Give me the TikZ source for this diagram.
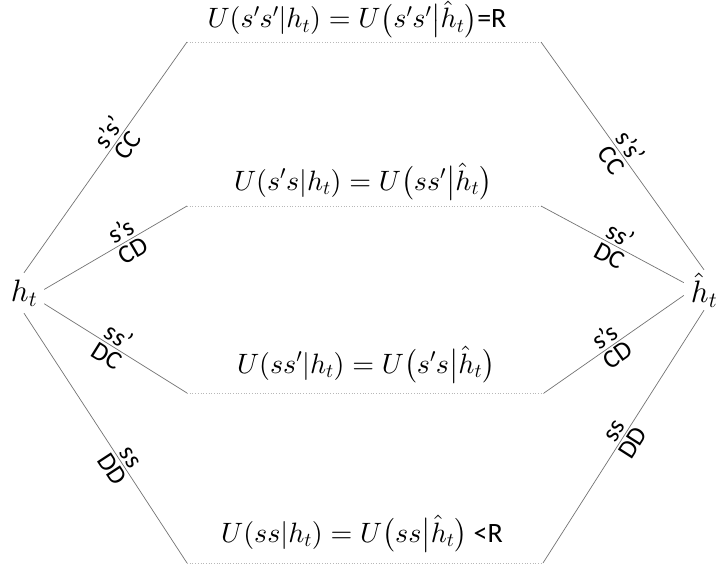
\documentclass[tikz,border=0pt]{standalone}
\usepackage{amsmath}
\usepackage[no-math]{fontspec}
\setmainfont{Carlito}
\DeclareFontShape{OML}{cmm}{m}{it}{<->cmmi10}{\skewchar\font'177}
\DeclareFontShape{OMS}{cmsy}{m}{n}{<->cmsy10}{\skewchar\font'60}
\DeclareFontShape{OMX}{cmex}{m}{n}{<->cmex10}{}
\DeclareFontShape{OT1}{cmr}{m}{n}{<->cmr10}{}
\begin{document}
\begin{tikzpicture}[x=1pt,y=-1pt,
  conn/.style={draw=black!55, line width=0.7pt},
  dotl/.style={draw=black!28, dotted, line width=0.7pt},
  eq/.style={font=\fontsize{28}{33}\selectfont, inner sep=0pt, anchor=base},
  lab/.style={font=\fontsize{26}{30}\selectfont, sloped, inner sep=2.5pt},
  statenode/.style={font=\fontsize{31}{36}\selectfont, minimum width=40pt, minimum height=40pt, inner sep=0pt}]
\useasboundingbox (0,0) rectangle (722,567);
\node[statenode] (h) at (24,293) {$h_t$};
\node[statenode] (hh) at (704,290) {$\hat{h}_t$};
\coordinate (l1) at (187,42);
\coordinate (r1) at (541,42);
\coordinate (l2) at (187,206);
\coordinate (r2) at (541,206);
\coordinate (l3) at (187,393);
\coordinate (r3) at (544,393);
\coordinate (l4) at (187,563);
\coordinate (r4) at (543,563);
% dotted rows
\draw[dotl] (l1) -- (r1);
\draw[dotl] (l2) -- (r2);
\draw[dotl] (l3) -- (r3);
\draw[dotl] (l4) -- (r4);
% equations
\node[eq] (e1) at (357,28) {$U(s's'|h_t) = U\bigl(s's'\big|\hat{h}_t\bigr)$=R};
\node[eq] (e2) at (363,190) {$U(s's|h_t) = U\bigl(ss'\big|\hat{h}_t\bigr)$};
\node[eq] (e3) at (366,373) {$U(ss'|h_t) = U\bigl(s's\big|\hat{h}_t\bigr)$};
\node[eq] (e4) at (362,542) {$U(ss|h_t) = U\bigl(ss\big|\hat{h}_t\bigr)$ <R};
% left branches
\draw[conn] (h.north) -- node[lab, above, pos=0.58] (a1) {s's'} node[lab, below, pos=0.58] (b1) {CC} (l1);
\draw[conn] (h.10) -- node[lab, above, pos=0.58] (a2) {s's} node[lab, below, pos=0.58] (b2) {CD} (l2);
\draw[conn] (h.-28) -- node[lab, above, pos=0.48] (a3) {ss'} node[lab, below, pos=0.48] (b3) {DC} (l3);
\draw[conn] (h.south) -- node[lab, above, pos=0.6] (a4) {ss} node[lab, below, pos=0.6] (b4) {DD} (l4);
% right branches
\draw[conn] (r1) -- node[lab, above, pos=0.49] (c1) {s's'} node[lab, below, pos=0.49] (d1) {CC} (hh.north);
\draw[conn] (r2) -- node[lab, above, pos=0.52] (c2) {ss'} node[lab, below, pos=0.52] (d2) {DC} (hh.160);
\draw[conn] (r3) -- node[lab, above, pos=0.48] (c3) {s's} node[lab, below, pos=0.48] (d3) {CD} (hh.195);
\draw[conn] (r4) -- node[lab, above, pos=0.5] (c4) {ss} node[lab, below, pos=0.5] (d4) {DD} (hh.south);
\end{tikzpicture}
\end{document}
